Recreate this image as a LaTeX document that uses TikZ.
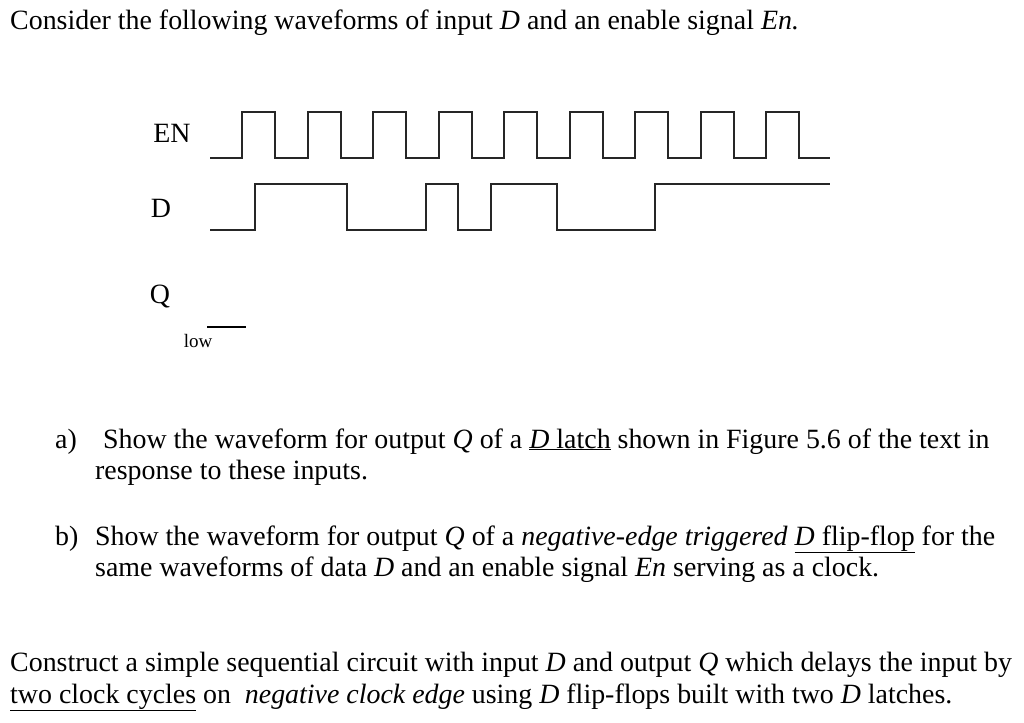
\documentclass[tikz,border=0pt]{standalone}
\usepackage{fontspec}
\setmainfont{Liberation Serif}
\begin{document}
\begin{tikzpicture}[x=1pt,y=-1pt,
  txt/.style={anchor=base west,inner sep=0pt,font=\fontsize{27.9}{32}\selectfont},
  lbl/.style={inner sep=0pt,font=\fontsize{27.9}{32}\selectfont},
  wave/.style={line width=1.6pt,line join=miter,color=black!85}]
\useasboundingbox (0,0) rectangle (1024,722);
\node[txt] (t0) at (10,30) {Consider the following waveforms of input \textit{D} and an enable signal \textit{En.}};
\node[lbl] (en) at (172,133) {EN};
\node[lbl] (d) at (161,208) {D};
\node[lbl] (q) at (160,297) {Q};
\node[inner sep=0pt,font=\fontsize{19}{22}\selectfont] (low) at (198,341) {low};
\draw[wave] (210,158)
  -- (242,158) -- (242,112) -- (275,112) -- (275,158)
  -- (308,158) -- (308,112) -- (341,112) -- (341,158)
  -- (373,158) -- (373,112) -- (406,112) -- (406,158)
  -- (439,158) -- (439,112) -- (472,112) -- (472,158)
  -- (504,158) -- (504,112) -- (537,112) -- (537,158)
  -- (570,158) -- (570,112) -- (603,112) -- (603,158)
  -- (635,158) -- (635,112) -- (668,112) -- (668,158)
  -- (701,158) -- (701,112) -- (734,112) -- (734,158)
  -- (766,158) -- (766,112) -- (799,112) -- (799,158) -- (830,158);
\draw[wave] (210,230) -- (255,230) -- (255,184) -- (347,184) -- (347,230)
  -- (426,230) -- (426,184) -- (458,184) -- (458,230) -- (491,230) -- (491,184)
  -- (557,184) -- (557,230) -- (655,230) -- (655,184) -- (830,184);
\draw[line width=1.4pt] (207,327) -- (246,327);
\node[txt] (a1) at (55,448) {a)};
\node[txt] (a2) at (103,448) {Show the waveform for output \textit{Q} of a \underline{\textit{D} latch} shown in Figure 5.6 of the text in};
\node[txt] (a3) at (95,479) {response to these inputs.};
\node[txt] (b1) at (55,545) {b)};
\node[txt] (b2) at (95,545) {Show the waveform for output \textit{Q} of a \textit{negative-edge triggered} \underline{\textit{D} flip-flop} for the};
\node[txt] (b3) at (95,576) {same waveforms of data \textit{D} and an enable signal \textit{En} serving as a clock.};
\node[txt] (c1) at (10,671) {Construct a simple sequential circuit with input \textit{D} and output \textit{Q} which delays the input by};
\node[txt] (c2) at (10,703) {\underline{two clock cycles} on\ \ \textit{negative clock edge} using \textit{D} flip-flops built with two \textit{D} latches.};
\end{tikzpicture}
\end{document}
